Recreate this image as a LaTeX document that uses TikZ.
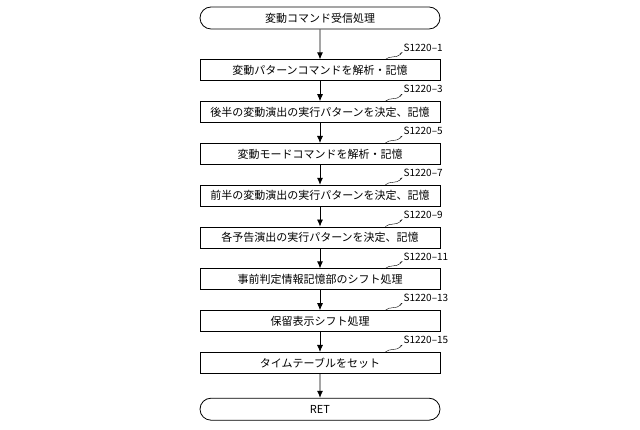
\documentclass[tikz,border=0pt]{standalone}
\usepackage{fontspec}
\setmainfont{Noto Sans CJK JP}
\usetikzlibrary{positioning, shapes.misc, calc, arrows.meta}
\tikzset{
    procbox/.style={draw, thick, rectangle, minimum width=240pt, minimum height=21pt, inner sep=0pt, font=\fontsize{11}{12}\selectfont},
    termbox/.style={draw, thick, rounded rectangle, minimum width=240pt, minimum height=22pt, inner sep=0pt, font=\fontsize{11}{12}\selectfont},
    steplabel/.style={font=\fontsize{10}{12}\selectfont, inner sep=1pt, anchor=south west},
    flow/.style={-{Latex[length=7pt,width=6pt]}, thick},
}
\newcommand{\StepTag}[2]{%
  \draw ($(#1.north east)+(-55pt,0pt)$) .. controls +(4pt,4pt) and +(-4pt,-4pt) .. ($(#1.north east)+(-40pt,5pt)$)
        .. controls +(4pt,4pt) and +(-4pt,-2pt) .. ($(#1.north east)+(-38pt,7pt)$) node[steplabel] {#2};}

\begin{document}
\begin{tikzpicture}[x=1pt, y=1pt]
    \useasboundingbox (0,0) rectangle (640,430);
    \tikzset{node distance=20pt}

    \node[termbox] (start) at (320,412) {変動コマンド受信処理};
    \node[procbox, below=30pt of start] (s1) {変動パターンコマンドを解析・記憶};
    \node[procbox, below=of s1] (s3) {後半の変動演出の実行パターンを決定、記憶};
    \node[procbox, below=of s3] (s5) {変動モードコマンドを解析・記憶};
    \node[procbox, below=of s5] (s7) {前半の変動演出の実行パターンを決定、記憶};
    \node[procbox, below=of s7] (s9) {各予告演出の実行パターンを決定、記憶};
    \node[procbox, below=of s9] (s11) {事前判定情報記憶部のシフト処理};
    \node[procbox, below=of s11] (s13) {保留表示シフト処理};
    \node[procbox, below=of s13] (s15) {タイムテーブルをセット};
    \node[termbox, below=24pt of s15] (ret) {RET};

    \foreach \a/\b in {start/s1, s1/s3, s3/s5, s5/s7, s7/s9, s9/s11, s11/s13, s13/s15, s15/ret}
      \draw[flow] (\a) -- (\b);

    \foreach \n in {1,3,...,15}
      {\StepTag{s\n}{S1220--\n}}
\end{tikzpicture}
\end{document}
